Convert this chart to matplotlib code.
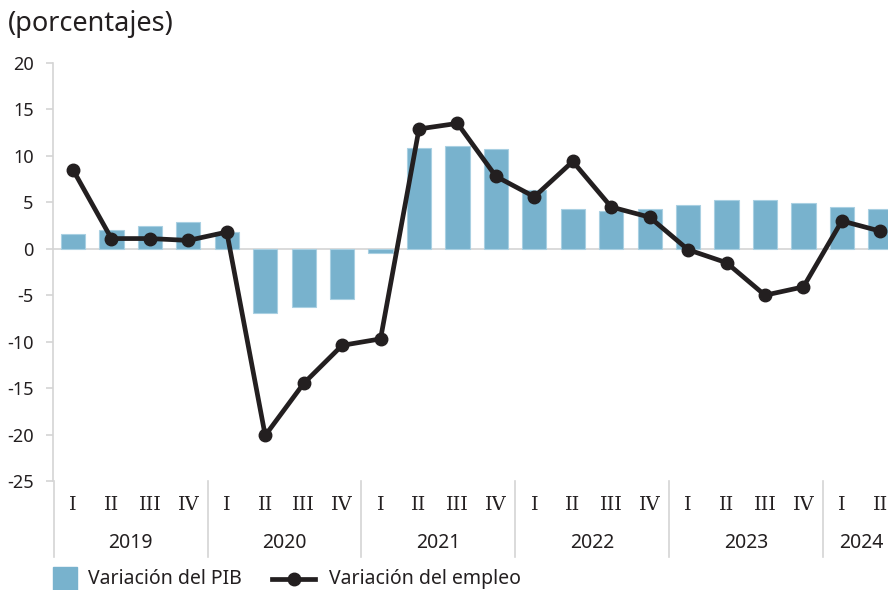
import numpy as np
import matplotlib
matplotlib.use("Agg")
from matplotlib import pyplot as plt
from matplotlib.lines import Line2D

## Data (percentages, quarterly)

years = ['2019', '2020', '2021', '2022', '2023', '2024']
quarters = ['I', 'II', 'III', 'IV'] * 5 + ['I', 'II']

pib = [1.6, 2.0, 2.5, 2.9,
       1.8, -6.9, -6.3, -5.4,
       -0.5, 10.9, 11.1, 10.7,
       6.3, 4.3, 4.1, 4.3,
       4.7, 5.2, 5.2, 4.9,
       4.5, 4.3]

empleo = [8.5, 1.1, 1.1, 0.9,
          1.8, -20.1, -14.5, -10.4,
          -9.7, 12.9, 13.5, 7.8,
          5.6, 9.4, 4.5, 3.4,
          -0.1, -1.5, -5.0, -4.1,
          3.0, 1.9]

bar_color = '#78b2cd'
line_color = '#231f20'
grey = '#d4d4d4'
sans = 'Noto Sans'

x = np.arange(len(pib))
W, H = 888, 590

fig = plt.figure(figsize=(8.88, 5.90), dpi=100)
ax = fig.add_axes([53/W, 109/H, 1 - 53/W, (481-63)/H])

ax.bar(x, pib, width=0.63, color=bar_color, edgecolor='#a9d0e2', linewidth=0.8, zorder=2)
ax.plot(x, empleo, color=line_color, lw=3.4, marker='o', ms=9, zorder=3)

ax.set_ylim(-25, 20)
ax.set_xlim(-0.52, 21.2)
ax.set_yticks(np.arange(-25, 21, 5))
ax.set_yticklabels([str(v) for v in range(-25, 21, 5)], fontsize=13, family=sans, color=line_color)
ax.axhline(0, color=grey, lw=1.2, zorder=1)

for s in ['top', 'right', 'bottom']:
    ax.spines[s].set_visible(False)
ax.spines['left'].set_color(grey)
ax.spines['left'].set_linewidth(1.2)
ax.tick_params(axis='y', length=5, color=grey, width=1.2, pad=9)
ax.set_xticks([])

## Quarter and year labels under the axis

trans = ax.get_xaxis_transform()
px = 1 / (481 - 63)
for i, q in enumerate(quarters):
    ax.text(x[i], -24 * px, q, transform=trans, ha='center', va='center',
            fontsize=14, family='DejaVu Serif', color=line_color, clip_on=False)

for k, yr in enumerate(years):
    n = min(4, len(pib) - 4 * k)
    ax.text(4 * k + (n - 1) / 2, -62 * px, yr, transform=trans, ha='center', va='center',
            fontsize=14, family=sans, color=line_color, clip_on=False)

for k in range(6):
    ax.plot([4 * k - 0.5, 4 * k - 0.5], [0, -76 * px], transform=trans,
            color=grey, lw=1.2, clip_on=False)

## Subtitle

fig.text(8/W, 1 - 24/H, '(porcentajes)', fontsize=19.5, family=sans,
         color=line_color, va='center', ha='left')

## Legend drawn by hand in figure pixels

fig.patches.append(plt.Rectangle((53/W, 1 - 591/H), 24/W, 24/H, color=bar_color,
                                 transform=fig.transFigure, figure=fig))
fig.text(88/W, 1 - 579/H, 'Variación del PIB', fontsize=14, family=sans,
         color=line_color, va='center', ha='left')
fig.lines.append(Line2D([272/W, 315/W], [1 - 579/H, 1 - 579/H], color=line_color, lw=3.4,
                        transform=fig.transFigure, figure=fig))
fig.lines.append(Line2D([293.5/W], [1 - 579/H], color=line_color, marker='o', ms=9,
                        transform=fig.transFigure, figure=fig))
fig.text(329/W, 1 - 579/H, 'Variación del empleo', fontsize=14, family=sans,
         color=line_color, va='center', ha='left')

fig.savefig('out.png', dpi=100)
